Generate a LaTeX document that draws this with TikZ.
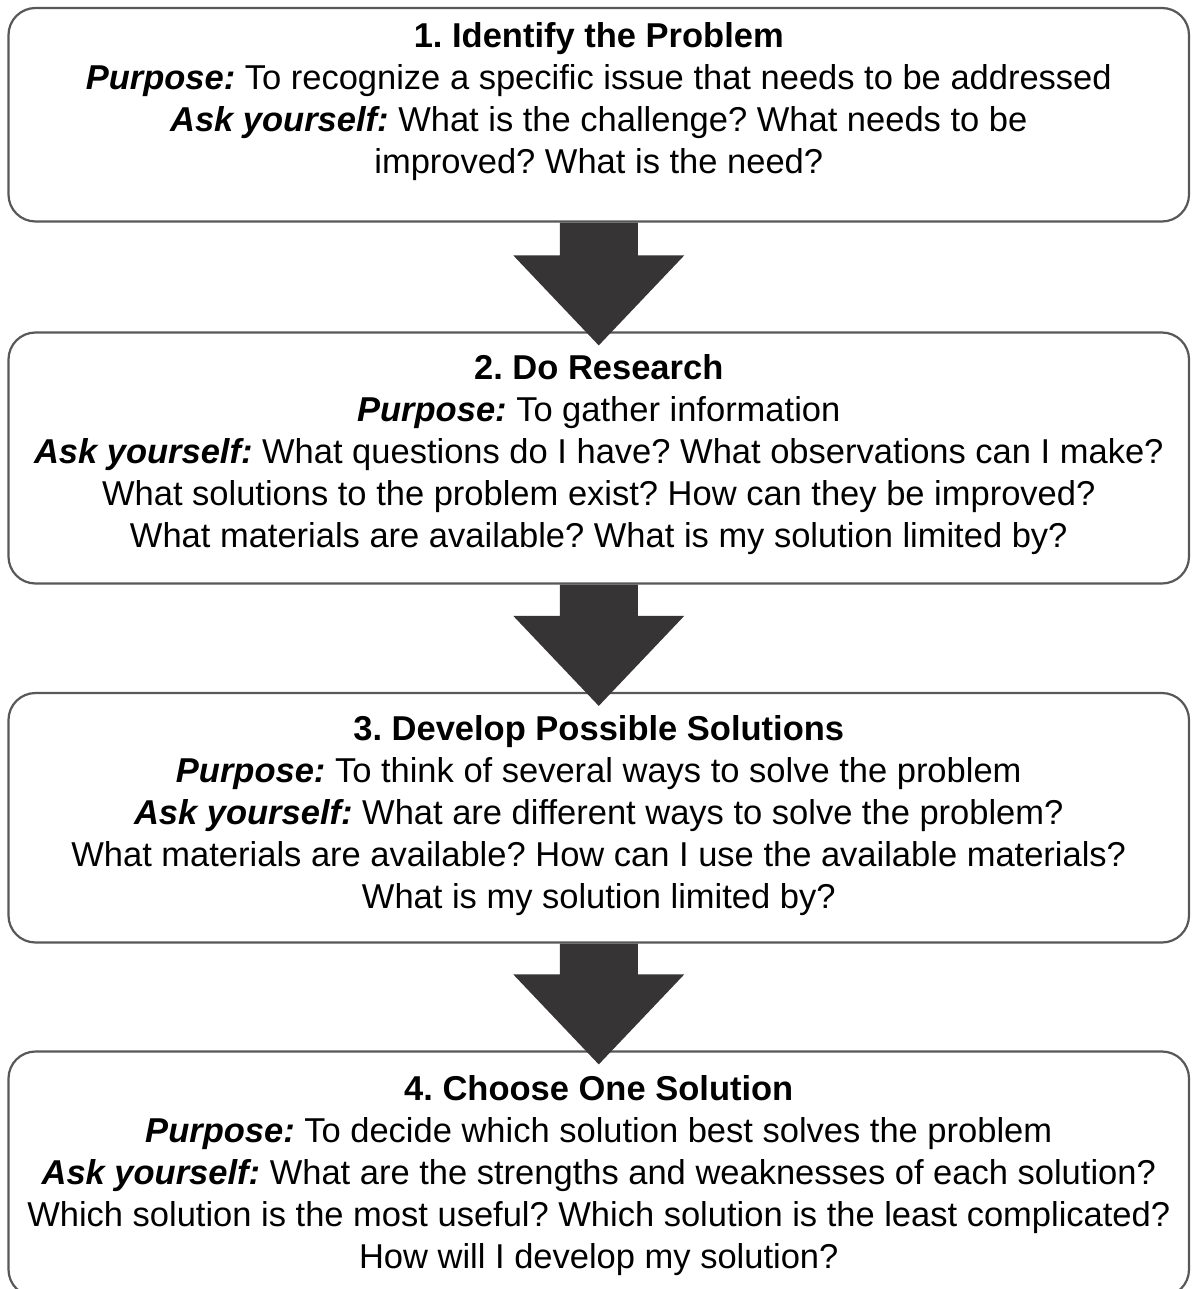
\documentclass[tikz,border=0pt]{standalone}
\usepackage{fontspec}
\setmainfont{Liberation Sans}
\usetikzlibrary{calc}

\definecolor{boxline}{RGB}{88,88,88}
\definecolor{arrowfill}{RGB}{54,52,53}

\tikzset{
  stepbox/.style={draw=boxline, line width=2.2pt, rounded corners=27pt,
    fill=white, minimum width=1180.5pt, inner sep=0pt},
  steptext/.style={anchor=north, align=center, inner sep=0pt,
    font={\fontsize{34.5}{42}\selectfont\frenchspacing}},
  blockarrow/.style={fill=arrowfill, draw=none}
}

\begin{document}
\begin{tikzpicture}[x=1pt,y=-1pt]
  \useasboundingbox (0,0) rectangle (1191,1289);
  \clip (0,0) rectangle (1191,1289);

  % boxes
  \node[stepbox, minimum height=213.5pt] (b1) at (598.75,114.75) {};
  \node[stepbox, minimum height=251pt]   (b2) at (598.75,458)    {};
  \node[stepbox, minimum height=249.5pt] (b3) at (598.75,817.75) {};
  \node[stepbox, minimum height=245pt]   (b4) at (598.75,1174)   {};

  % texts
  \node[steptext] (t1) at ($(b1.north)+(0,15)$)
    {\textbf{1. Identify the Problem}\\
     \textbf{\textit{Purpose:}} To recognize a specific issue that needs to be addressed\\
     \textbf{\textit{Ask yourself:}} What is the challenge? What needs to be\\
     improved? What is the need?};
  \node[steptext] (t2) at ($(b2.north)+(0,23)$)
    {\textbf{2. Do Research}\\
     \textbf{\textit{Purpose:}} To gather information\\
     \textbf{\textit{Ask yourself:}} What questions do I have? What observations can I make?\\
     What solutions to the problem exist? How can they be improved?\\
     What materials are available? What is my solution limited by?};
  \node[steptext] (t3) at ($(b3.north)+(0,23)$)
    {\textbf{3. Develop Possible Solutions}\\
     \textbf{\textit{Purpose:}} To think of several ways to solve the problem\\
     \textbf{\textit{Ask yourself:}} What are different ways to solve the problem?\\
     What materials are available? How can I use the available materials?\\
     What is my solution limited by?};
  \node[steptext] (t4) at ($(b4.north)+(0,25)$)
    {\textbf{4. Choose One Solution}\\
     \textbf{\textit{Purpose:}} To decide which solution best solves the problem\\
     \textbf{\textit{Ask yourself:}} What are the strengths and weaknesses of each solution?\\
     Which solution is the most useful? Which solution is the least complicated?\\
     How will I develop my solution?};

  % arrows between the boxes
  \foreach \from/\to in {b1/b2,b2/b3,b3/b4}
    \fill[blockarrow] ($(\from.south)+(-39,0)$) -- ($(\to.north)+(-39,-76)$)
      -- ($(\to.north)+(-85.5,-76)$) -- ($(\to.north)+(0,14)$)
      -- ($(\to.north)+(85.5,-76)$) -- ($(\to.north)+(39,-76)$)
      -- ($(\from.south)+(39,0)$) -- cycle;
\end{tikzpicture}
\end{document}
